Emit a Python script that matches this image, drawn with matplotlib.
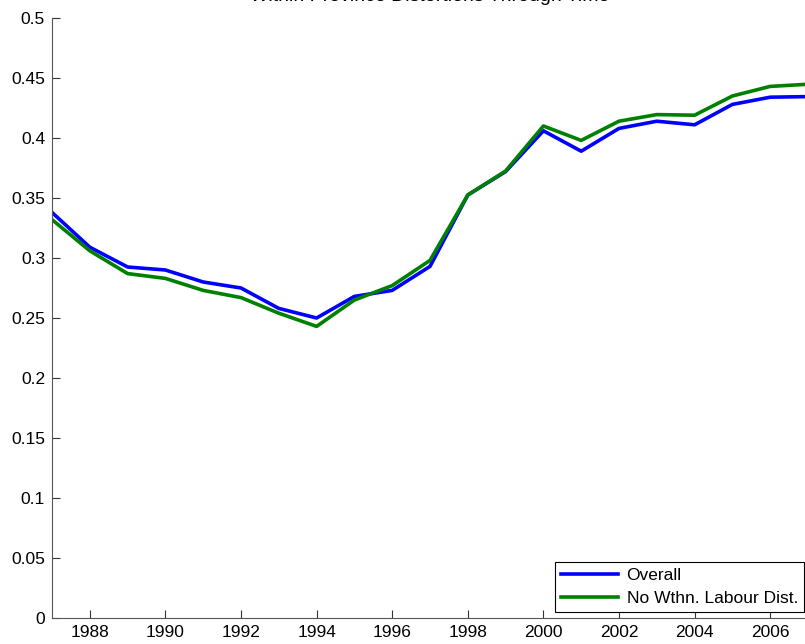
import matplotlib.pyplot as plt

plt.rcParams['font.family'] = ['Liberation Sans', 'DejaVu Sans']

years = list(range(1987, 2008))
overall = [0.338, 0.309, 0.2925, 0.290, 0.280, 0.275, 0.258, 0.250, 0.268, 0.273,
           0.293, 0.3525, 0.372, 0.406, 0.389, 0.408, 0.414, 0.411, 0.428, 0.434, 0.4345]
no_labour = [0.332, 0.306, 0.287, 0.283, 0.273, 0.267, 0.254, 0.243, 0.265, 0.277,
             0.298, 0.3525, 0.3725, 0.410, 0.398, 0.414, 0.4195, 0.419, 0.435, 0.443, 0.4448]

fig = plt.figure(figsize=(8.05, 6.44), dpi=100)
ax = fig.add_axes([52 / 805, 26 / 644, 756 / 805, 600 / 644])

ax.plot(years, overall, color=(0, 0, 1), linewidth=2.6, label='Overall')
ax.plot(years, no_labour, color=(0, 0.5, 0), linewidth=2.6, label='No Wthn. Labour Dist.')

ax.set_xlim(1987, 2007)
ax.set_ylim(0, 0.5)
ax.set_xticks(range(1988, 2007, 2))
ax.set_yticks([i * 0.05 for i in range(11)])
ax.set_yticklabels(['0', '0.05', '0.1', '0.15', '0.2', '0.25', '0.3', '0.35', '0.4', '0.45', '0.5'])
ax.tick_params(direction='in', length=6, labelsize=12.5, width=0.8, colors='#333333', labelcolor='black')
ax.tick_params(axis='x', pad=5)
ax.tick_params(axis='y', pad=5)
ax.spines['top'].set_visible(False)
ax.spines['right'].set_visible(False)
for s in ('left', 'bottom'):
    ax.spines[s].set_color('#555555')

ax.set_title('Within Province Distortions Through Time', fontsize=14, pad=12)

leg = ax.legend(loc='lower right', bbox_to_anchor=(752 / 756, 0.01),
                fontsize=12.5, fancybox=False, framealpha=1, edgecolor='black',
                borderpad=0.35, handlelength=3.3, handletextpad=0.5,
                labelspacing=0.45, borderaxespad=0.0)
leg.get_frame().set_linewidth(0.8)

fig.savefig('out.png', dpi=100)
